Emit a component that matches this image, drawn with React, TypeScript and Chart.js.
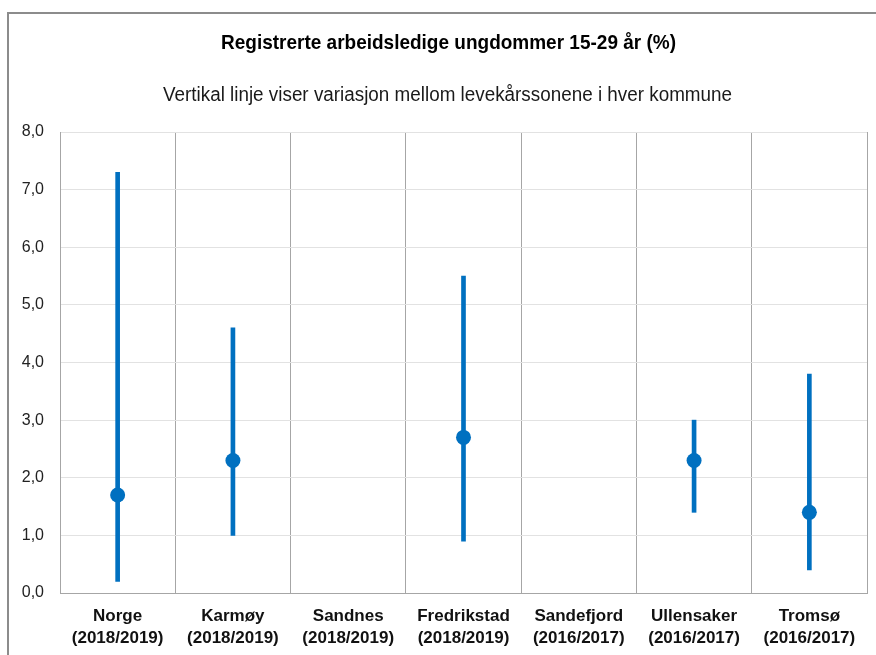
import React, { useEffect, useRef } from "react";
import { Chart, registerables } from "chart.js";

Chart.register(...registerables);

const titleText = "Registrerte arbeidsledige ungdommer 15-29 år (%)";
const subtitleText = "Vertikal linje viser variasjon mellom levekårssonene i hver kommune";

const categories: string[][] = [
  ["Norge", "(2018/2019)"],
  ["Karmøy", "(2018/2019)"],
  ["Sandnes", "(2018/2019)"],
  ["Fredrikstad", "(2018/2019)"],
  ["Sandefjord", "(2016/2017)"],
  ["Ullensaker", "(2016/2017)"],
  ["Tromsø", "(2016/2017)"],
];

const lowValues: (number | null)[] = [0.2, 1.0, null, 0.9, null, 1.4, 0.4];
const highValues: (number | null)[] = [7.3, 4.6, null, 5.5, null, 3.0, 3.8];
const meanValues: (number | null)[] = [1.7, 2.3, null, 2.7, null, 2.3, 1.4];

const yMin = 0;
const yMax = 8;
const yStep = 1;

const FONT = "'Liberation Sans', Arial, sans-serif";
const BLUE = "#0070C0";

// condensed text helper (reference uses a narrow typeface)
function drawCondensed(
  ctx: CanvasRenderingContext2D,
  text: string,
  cx: number,
  cy: number,
  font: string,
  targetWidth: number,
  color: string
) {
  ctx.save();
  ctx.font = font;
  ctx.fillStyle = color;
  ctx.textAlign = "center";
  ctx.textBaseline = "middle";
  const w = ctx.measureText(text).width;
  const sx = Math.min(1, targetWidth / w);
  ctx.translate(cx, cy);
  ctx.scale(sx, 1);
  ctx.fillText(text, 0, 0);
  ctx.restore();
}

const framePlugin = {
  id: "frame",
  beforeDraw(chart: any) {
    const ctx = chart.ctx;
    ctx.save();
    ctx.fillStyle = "#ffffff";
    ctx.fillRect(0, 0, chart.width, chart.height);
    ctx.strokeStyle = "#8c8c8c";
    ctx.lineWidth = 2;
    ctx.strokeRect(8, 13, chart.width + 20, chart.height + 20);
    ctx.restore();
  },
  afterDraw(chart: any) {
    const ctx = chart.ctx;
    drawCondensed(ctx, titleText, 448.5, 43.5, `bold 21px ${FONT}`, 455, "#000000");
    drawCondensed(ctx, subtitleText, 447.5, 95.5, `20px ${FONT}`, 569, "#1a1a1a");
  },
};

export default function App() {
  const canvasRef = useRef<HTMLCanvasElement | null>(null);

  useEffect(() => {
    document.body.style.margin = "0";
    const canvas = canvasRef.current;
    if (!canvas) return;
    const rangeData = lowValues.map((lo, i) =>
      lo == null || highValues[i] == null ? null : [lo, highValues[i] as number]
    );
    const chart = new Chart(canvas, {
      type: "bar",
      data: {
        labels: categories,
        datasets: [
          {
            type: "line",
            data: meanValues,
            showLine: false,
            pointRadius: 7.5,
            pointHoverRadius: 7.5,
            pointBackgroundColor: BLUE,
            pointBorderColor: BLUE,
            pointBorderWidth: 0,
            order: 0,
          } as any,
          {
            type: "bar",
            data: rangeData as any,
            backgroundColor: BLUE,
            borderWidth: 0,
            barThickness: 4,
            order: 1,
          } as any,
        ],
      },
      plugins: [framePlugin],
      options: {
        responsive: false,
        animation: false,
        events: [],
        layout: { padding: { left: 0, right: 9, top: 132, bottom: 0 } },
        plugins: {
          legend: { display: false },
          tooltip: { enabled: false },
          title: { display: false },
          subtitle: { display: false },
        },
        scales: {
          x: {
            offset: true,
            grid: {
              offset: true,
              color: "#a6a6a6",
              lineWidth: 1,
              drawTicks: false,
            },
            border: { color: "#a6a6a6", width: 1 },
            ticks: {
              color: "#111111",
              padding: 12,
              maxRotation: 0,
              autoSkip: false,
              font: { family: FONT, size: 17, weight: "bold", lineHeight: 1.3 },
            },
            afterFit(scale: any) {
              scale.height = 62;
            },
          },
          y: {
            min: yMin,
            max: yMax,
            grid: { color: "#e2e2e2", lineWidth: 1, drawTicks: false },
            border: { color: "#a6a6a6", width: 1 },
            ticks: {
              stepSize: yStep,
              color: "#222222",
              padding: 16,
              font: { family: FONT, size: 16 },
              callback: (v: any) => Number(v).toFixed(1).replace(".", ","),
            },
            afterFit(scale: any) {
              scale.width = 60;
            },
          },
        },
      },
    });
    return () => chart.destroy();
  }, []);

  return (
    <div style={{ position: "relative", width: 876, height: 655 }}>
      <canvas ref={canvasRef} width={876} height={655} />
    </div>
  );
}
